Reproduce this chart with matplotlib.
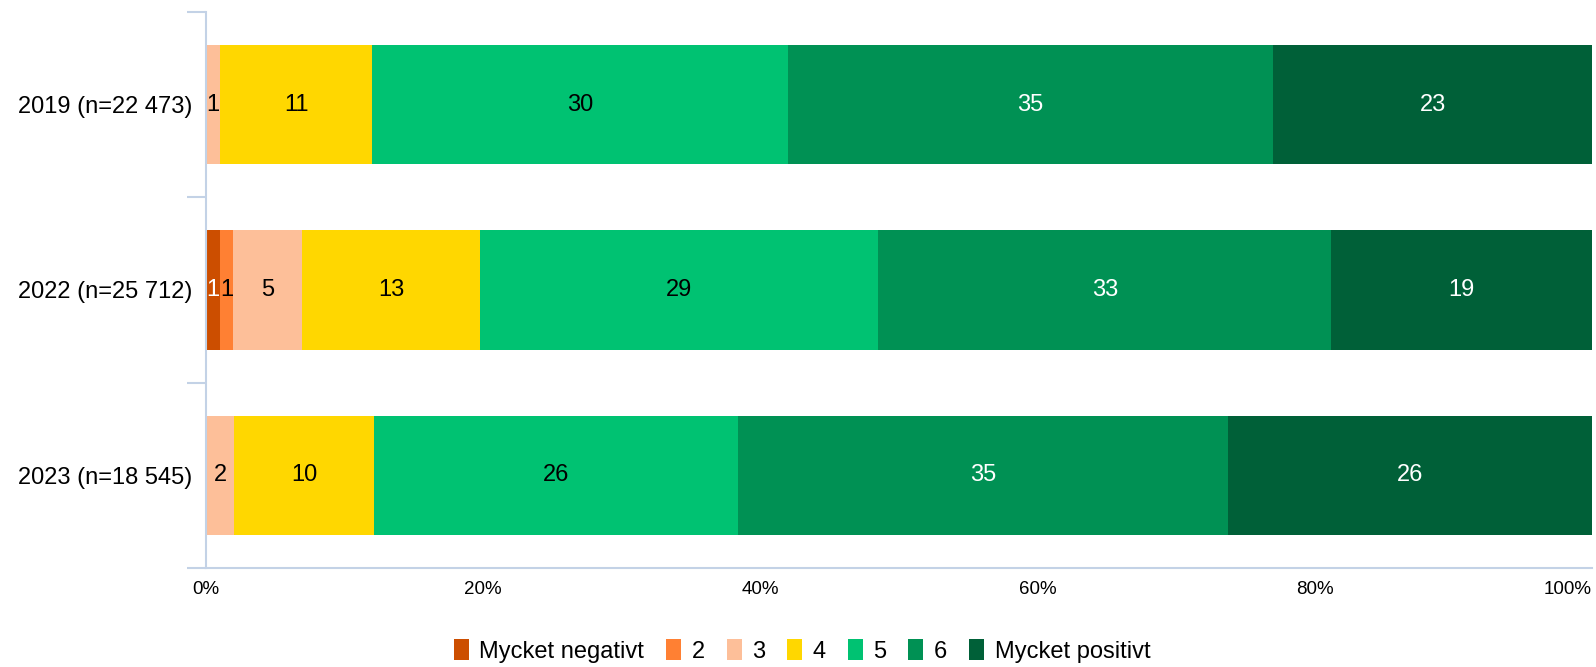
import numpy as np
import matplotlib
matplotlib.use("Agg")
import matplotlib.pyplot as plt
from matplotlib.patches import Patch

plt.rcParams['font.family'] = ['Liberation Sans', 'DejaVu Sans']

# ── data ──────────────────────────────────────
groups = ['2019 (n=22 473)', '2022 (n=25 712)', '2023 (n=18 545)']
categories = ['Mycket negativt', '2', '3', '4', '5', '6', 'Mycket positivt']
v2019 = [0, 0, 1, 11, 30, 35, 23]
v2022 = [1, 1, 5, 13, 29, 33, 19]
v2023 = [0, 0, 2, 10, 26, 35, 26]
x_ticks = [0, 20, 40, 60, 80, 100]

colors = ['#CC4E00', '#FF8033', '#FDBF99', '#FFD700', '#00C272', '#009154', '#006038']
text_colors = ['white', 'black', 'black', 'black', 'black', 'white', 'white']
axis_color = '#C3D2E6'

values = np.array([v2019, v2022, v2023], dtype=float)
shares = values / values.sum(axis=1, keepdims=True) * 100

# ── plot ──────────────────────────────────────
W, H = 1596, 667
fig = plt.figure(figsize=(W / 100, H / 100), dpi=100)
ax = fig.add_axes([206 / W, 1 - 568 / H, (1592 - 206) / W, (568 - 12) / H])

y = np.arange(len(groups))
left = np.zeros(len(groups))
for j, cat in enumerate(categories):
    w = shares[:, j]
    ax.barh(y, w, left=left, height=0.645, color=colors[j], edgecolor='none')
    for i in range(len(groups)):
        if values[i, j] > 0:
            ax.text(left[i] + w[i] / 2, y[i], f"{values[i, j]:.0f}",
                    ha='center', va='center', fontsize=17, color=text_colors[j])
    left += w

ax.set_xlim(0, 100)
ax.set_ylim(2.5, -0.5)
ax.set_yticks(y)
ax.set_yticklabels(groups, fontsize=17)
ax.set_yticks([-0.5, 0.5, 1.5, 2.5], minor=True)
ax.tick_params(axis='y', which='major', length=0, pad=10)
ax.tick_params(axis='y', which='minor', length=14, width=1.5, color=axis_color)
ax.set_xticks(x_ticks)
ax.set_xticklabels([f"{t}%" for t in x_ticks], fontsize=13.5)
ax.get_xticklabels()[-1].set_horizontalalignment('right')
ax.tick_params(axis='x', length=0, pad=9)

for s in ['top', 'right']:
    ax.spines[s].set_visible(False)
for s in ['left', 'bottom']:
    ax.spines[s].set_color(axis_color)
    ax.spines[s].set_linewidth(1.5)

handles = [Patch(facecolor=c, edgecolor='none') for c in colors]
fig.legend(handles, categories, loc='center', bbox_to_anchor=(802 / W, 1 - 651 / H),
           ncol=len(categories), frameon=False, fontsize=17,
           handlelength=0.64, handleheight=0.97, handletextpad=0.45,
           columnspacing=0.92, borderpad=0, borderaxespad=0)

fig.savefig('out.png', dpi=100)
